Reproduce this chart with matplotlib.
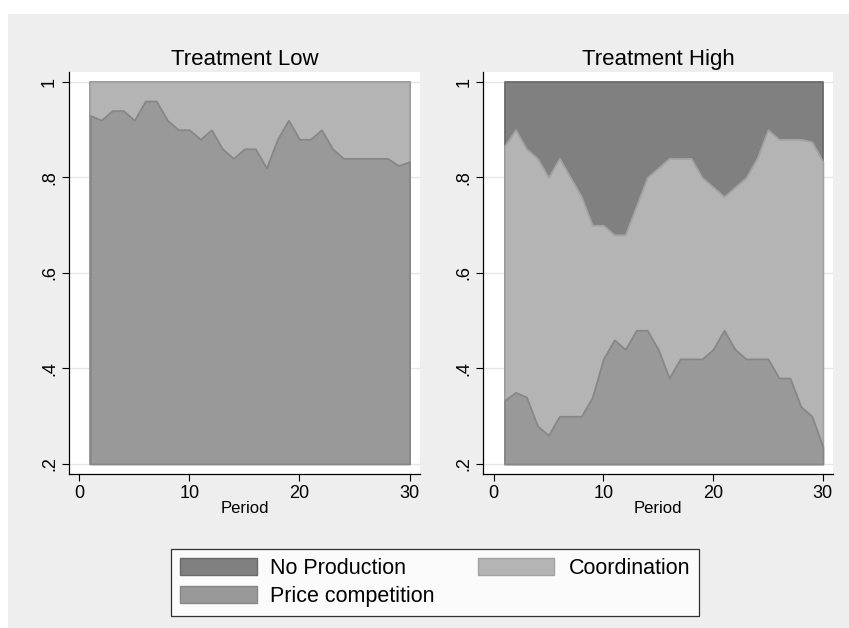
import numpy as np
import matplotlib.pyplot as plt
from matplotlib.patches import Patch, Rectangle

plt.rcParams['font.family'] = ['Liberation Sans', 'DejaVu Sans']

period = np.arange(1, 31)

# Treatment Low: share with price competition (rest is coordination)
low_price = [0.93, 0.92, 0.94, 0.94, 0.92, 0.96, 0.96, 0.92, 0.90, 0.90,
             0.88, 0.90, 0.86, 0.84, 0.86, 0.86, 0.82, 0.88, 0.92, 0.88,
             0.88, 0.90, 0.86, 0.84, 0.84, 0.84, 0.84, 0.84, 0.825, 0.833]
low_prod = [1.0] * 30

# Treatment High: cumulative shares
high_price = [0.333, 0.35, 0.34, 0.28, 0.26, 0.30, 0.30, 0.30, 0.34, 0.42,
              0.46, 0.44, 0.48, 0.48, 0.44, 0.38, 0.42, 0.42, 0.42, 0.44,
              0.48, 0.44, 0.42, 0.42, 0.42, 0.38, 0.38, 0.32, 0.30, 0.236]
high_prod = [0.866, 0.90, 0.86, 0.84, 0.80, 0.84, 0.80, 0.76, 0.70, 0.70,
             0.68, 0.68, 0.74, 0.80, 0.82, 0.84, 0.84, 0.84, 0.80, 0.78,
             0.76, 0.78, 0.80, 0.84, 0.90, 0.88, 0.88, 0.88, 0.875, 0.833]
total = [1.0] * 30

base = 0.2
bg = '#eeeeee'
c_none, e_none = '#808080', '#6a6a6a'
c_coord, e_coord = '#b4b4b4', '#a2a2a2'
c_price, e_price = '#999999', '#878787'

fig = plt.figure(figsize=(8.49, 6.28), dpi=100, facecolor=bg)
# thin white strips along the top and left edges
fig.patches.append(Rectangle((0, 1 - 14 / 628), 1, 14 / 628, transform=fig.transFigure,
                             facecolor='white', edgecolor='none', zorder=-10))
fig.patches.append(Rectangle((0, 0), 8 / 849, 1, transform=fig.transFigure,
                             facecolor='white', edgecolor='none', zorder=-10))

ax1 = fig.add_axes([0.0813, 0.2452, 0.4134, 0.6402])
ax2 = fig.add_axes([0.5693, 0.2452, 0.4122, 0.6402])


def draw(ax, top, coord, price, title):
    ax.set_facecolor('white')
    ax.fill_between(period, base, top, color=c_none, edgecolor=e_none, lw=1.3, zorder=2)
    ax.fill_between(period, base, coord, color=c_coord, edgecolor=e_coord, lw=1.3, zorder=3)
    ax.fill_between(period, base, price, color=c_price, edgecolor=e_price, lw=1.3, zorder=4)
    ax.set_xlim(-0.93, 30.95)
    ax.set_ylim(0.179, 1.021)
    ax.set_xticks([0, 10, 20, 30])
    ax.set_yticks([0.2, 0.4, 0.6, 0.8, 1.0])
    ax.set_yticklabels(['.2', '.4', '.6', '.8', '1'], rotation=90, va='center')
    ax.tick_params(direction='out', length=5, width=0.8, labelsize=13, pad=3)
    ax.grid(axis='y', color='#e6e6e6', lw=1, zorder=0)
    ax.set_axisbelow(True)
    for s in ['top', 'right']:
        ax.spines[s].set_visible(False)
    for s in ['left', 'bottom']:
        ax.spines[s].set_linewidth(0.9)
    ax.set_title(title, fontsize=16, pad=5)
    ax.set_xlabel('Period', fontsize=12, labelpad=-1)


draw(ax1, total, low_prod, low_price, 'Treatment Low')
draw(ax2, total, high_prod, high_price, 'Treatment High')

handles = [Patch(facecolor=c_none, edgecolor=e_none),
           Patch(facecolor=c_price, edgecolor=e_price),
           Patch(facecolor=c_coord, edgecolor=e_coord)]
labels = ['No Production', 'Price competition', 'Coordination']
leg = fig.legend(handles, labels, ncol=2, loc='center', bbox_to_anchor=(0.5124, 0.0725),
                 fontsize=15.5, frameon=True, fancybox=False, edgecolor='black',
                 handlelength=3.55, handleheight=0.85, handletextpad=0.65,
                 columnspacing=2.0, labelspacing=0.35, borderpad=0.4)
leg.get_frame().set_linewidth(0.9)

fig.savefig('out.png', dpi=100, facecolor=bg)
